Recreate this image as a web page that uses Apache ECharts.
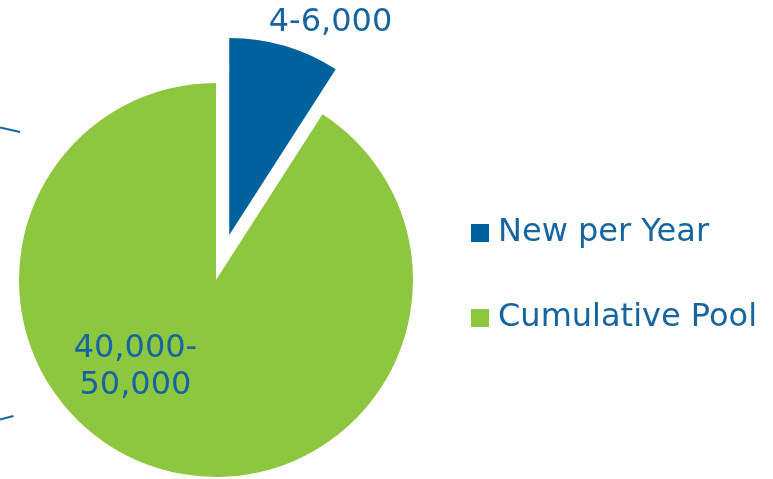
<!DOCTYPE html>
<html>
<head>
<meta charset="utf-8">
<script src="https://cdn.jsdelivr.net/npm/echarts@6/dist/echarts.min.js"></script>
<style>
html,body{margin:0;padding:0;background:#fff;}
#chart{width:773px;height:479px;}
</style>
</head>
<body>
<div id="chart"></div>
<script>
var categories = ['New per Year', 'Cumulative Pool'];
var values = [5000, 50000];
var labelTexts = ['4-6,000', '40,000-\n50,000'];
var colors = ['#00629D', '#8DC63F'];

var textColor = '#1765A0';
var chart = echarts.init(document.getElementById('chart'));

var labelOffsets = [[48, -114], [-52, -10]];

var data = categories.map(function (c, i) {
  var lbl = {
    show: true,
    position: 'inside',
    formatter: labelTexts[i],
    offset: labelOffsets[i],
    color: textColor,
    fontFamily: 'DejaVu Sans',
    fontSize: 32,
    lineHeight: 37,
    align: 'center'
  };
  return {
    name: c,
    value: values[i],
    selected: i === 0,
    itemStyle: { color: colors[i] },
    label: lbl,
    select: { label: lbl, itemStyle: { color: colors[i] } }
  };
});

chart.setOption({
  animation: false,
  legend: {
    orient: 'vertical',
    left: 466,
    top: 210,
    itemWidth: 18,
    itemHeight: 18,
    itemGap: 49,
    icon: 'rect',
    selectedMode: false,
    data: categories,
    textStyle: {
      color: textColor,
      fontFamily: 'DejaVu Sans',
      fontSize: 32,
      lineHeight: 36,
      padding: [0, 0, 0, 4]
    }
  },
  graphic: [
    { type: 'line', shape: { x1: 0, y1: 127.5, x2: 20, y2: 132 }, style: { stroke: textColor, lineWidth: 2 } },
    { type: 'line', shape: { x1: 0, y1: 419.5, x2: 13.5, y2: 416 }, style: { stroke: textColor, lineWidth: 2 } }
  ],
  series: [{
    type: 'pie',
    center: [216, 280],
    radius: [0, 197],
    startAngle: 90,
    clockwise: true,
    selectedMode: 'single',
    selectedOffset: 47,
    avoidLabelOverlap: false,
    labelLine: { show: false },
    emphasis: { disabled: true },
    data: data
  }]
});
</script>
</body>
</html>
